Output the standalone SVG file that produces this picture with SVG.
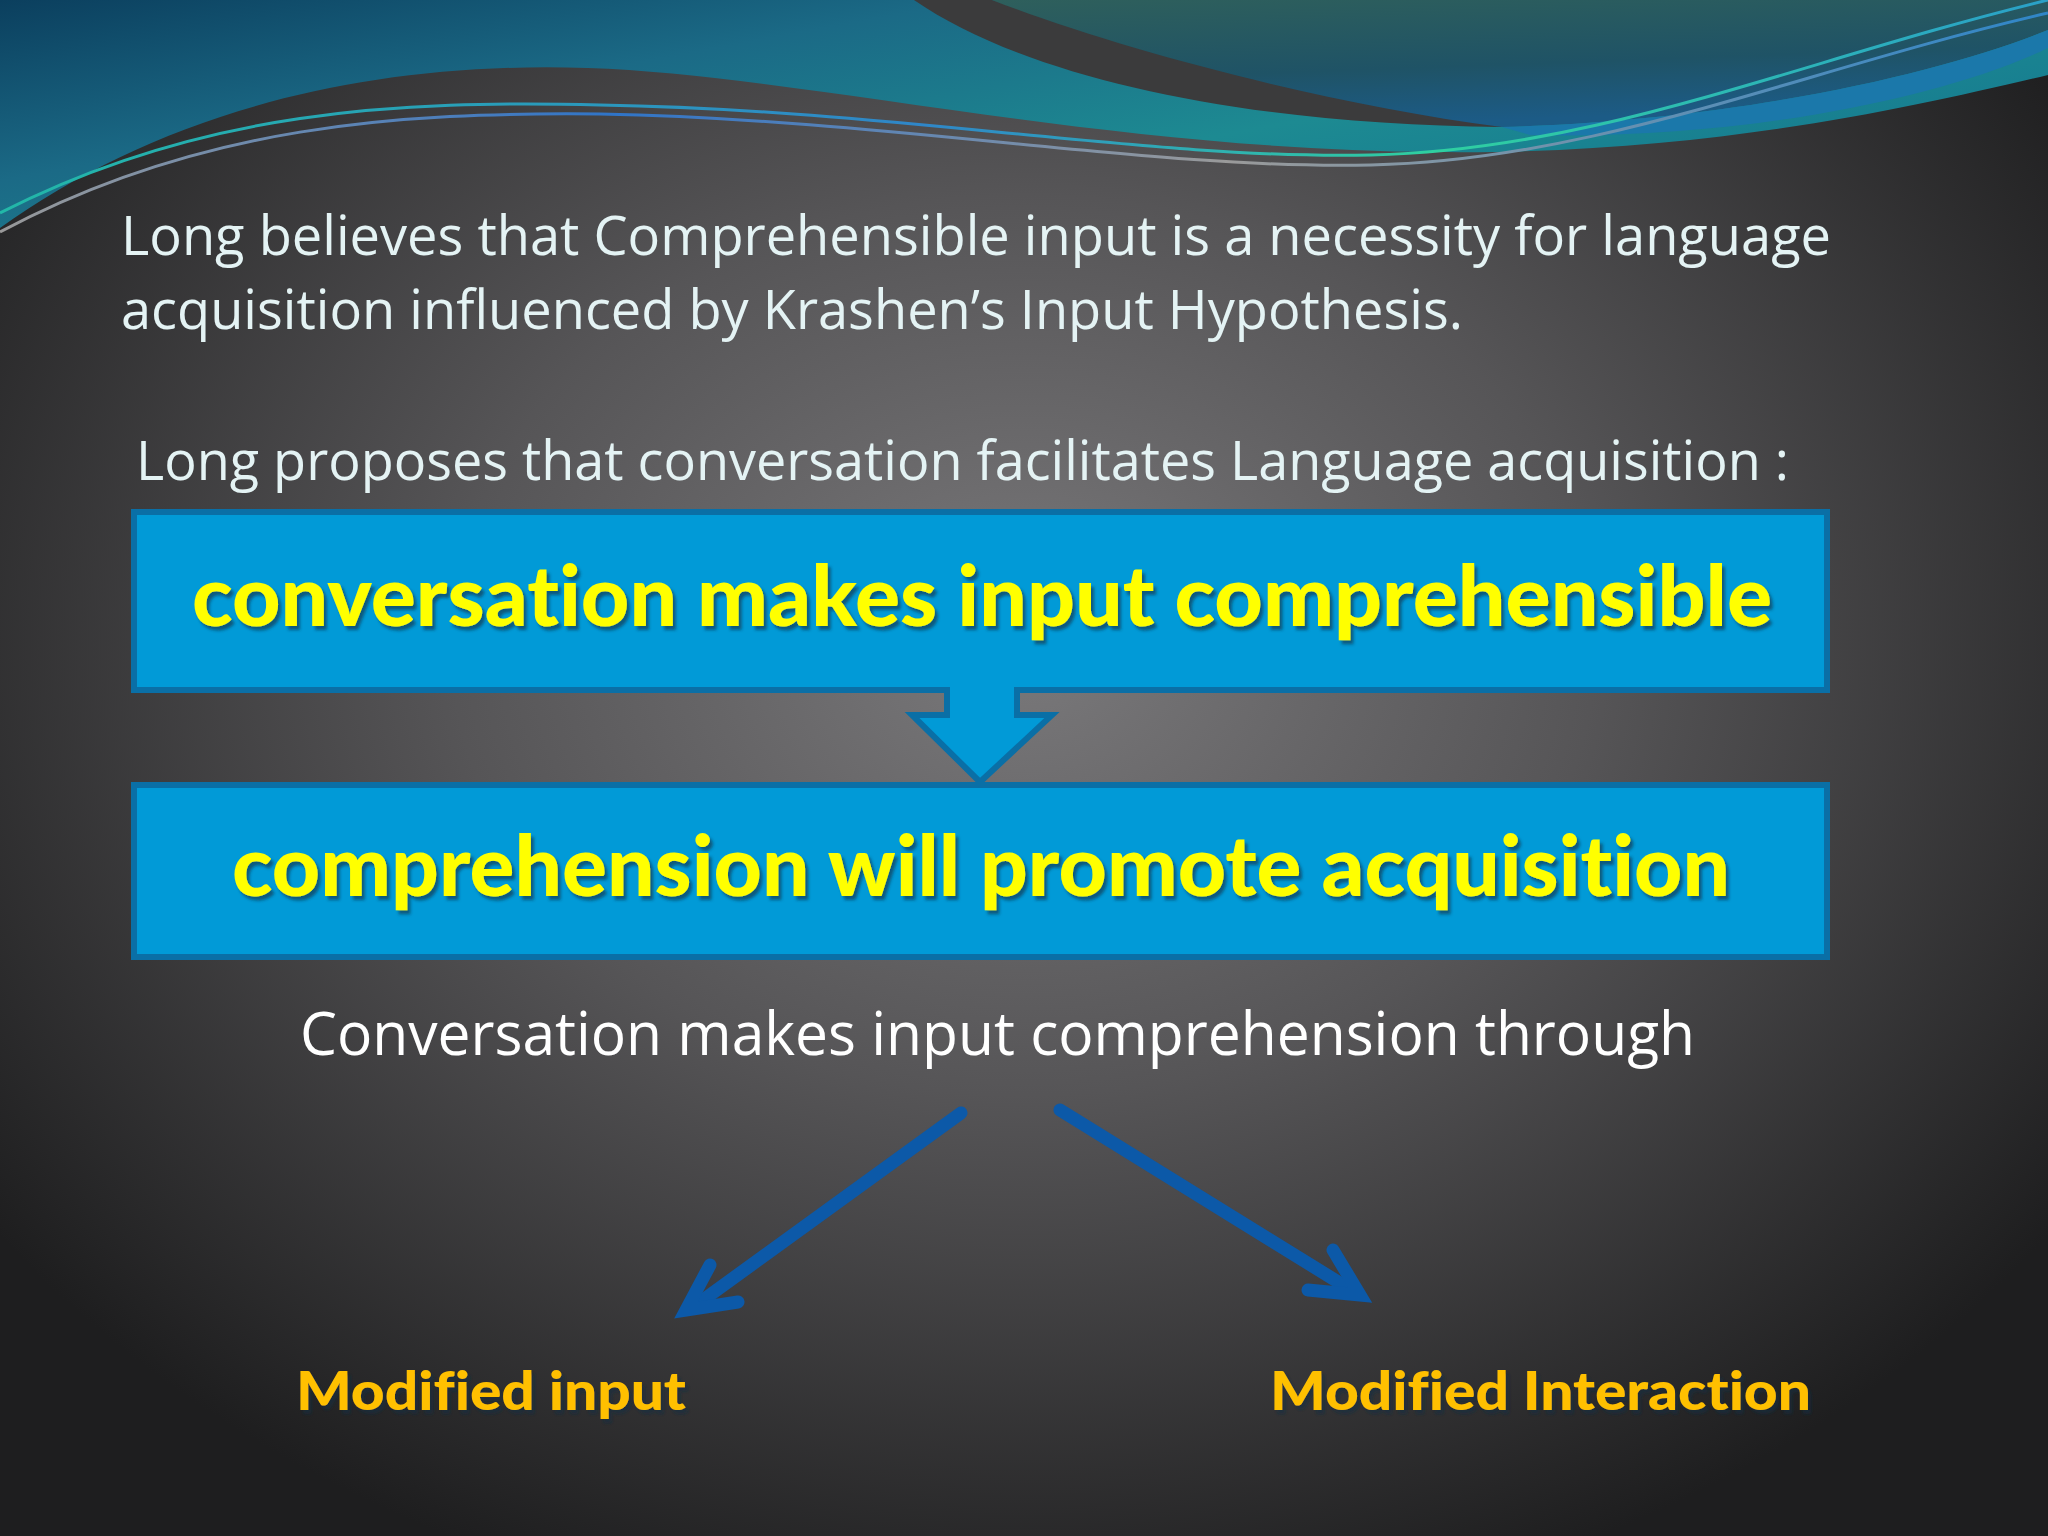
<svg xmlns="http://www.w3.org/2000/svg" width="2048" height="1536" viewBox="0 0 2048 1536">
<defs>
<radialGradient id="bg" cx="0.5" cy="0.42" r="0.62" gradientTransform="translate(0.5 0.42) scale(1 1.05) translate(-0.5 -0.42)">
<stop offset="0" stop-color="#7a797b"/>
<stop offset="0.45" stop-color="#565557"/>
<stop offset="1" stop-color="#1e1e1f"/>
</radialGradient>
<linearGradient id="teal" x1="0" y1="0" x2="1" y2="0.6">
<stop offset="0" stop-color="#0b3f5e"/>
<stop offset="0.35" stop-color="#1b6a86"/>
<stop offset="0.7" stop-color="#1d8a92"/>
<stop offset="1" stop-color="#157a90"/>
</linearGradient>
<linearGradient id="ur" x1="0" y1="0" x2="0.3" y2="1">
<stop offset="0" stop-color="#2e5f5c"/>
<stop offset="0.6" stop-color="#1f5366"/>
<stop offset="1" stop-color="#1c5b86"/>
</linearGradient>
<linearGradient id="ln1" x1="0" y1="0" x2="1" y2="0">
<stop offset="0" stop-color="#22b8a8"/>
<stop offset="0.45" stop-color="#2f86c8"/>
<stop offset="0.7" stop-color="#2fd0a0"/>
<stop offset="1" stop-color="#2aa0c8"/>
</linearGradient>
<linearGradient id="ln2" x1="0" y1="0" x2="1" y2="0">
<stop offset="0" stop-color="#999999"/>
<stop offset="0.3" stop-color="#2f74c8"/>
<stop offset="0.6" stop-color="#9a9a9a"/>
<stop offset="1" stop-color="#2f86c8"/>
</linearGradient>
<filter id="sh" x="-5%" y="-20%" width="110%" height="150%">
<feDropShadow dx="3" dy="4" stdDeviation="1.5" flood-color="#0a2a40" flood-opacity="0.6"/>
</filter>
</defs>
<style>
.title{font-family:"Open Sans","Liberation Sans",sans-serif;fill:#e4f3f4;font-size:54px}
.box{fill:#019ad7;stroke:#0a6fa6;stroke-width:6}
.boxtext{font-family:Lato,"Liberation Sans",sans-serif;font-weight:900;fill:#ffff00;font-size:84px;filter:url(#sh);font-variant-ligatures:none}
.sub{font-family:"Open Sans","Liberation Sans",sans-serif;fill:#ffffff;font-size:60px}
.lbl{font-family:Lato,"Liberation Sans",sans-serif;font-weight:900;fill:#ffc000;font-size:54px;filter:url(#sh);font-variant-ligatures:none}
.conn{fill:none;stroke:#0c59a8;stroke-width:13;stroke-linecap:round;stroke-linejoin:miter}
</style>

<rect x="0" y="0" width="2048" height="1536" fill="url(#bg)"/>

<g id="header-wave">
<path d="M0,0 H2048 V75 C1900,110 1700,155 1436,152 C1100,150 800,75 588,68 C350,60 150,120 0,228 Z" fill="url(#teal)"/>
<path d="M992,0 C1150,70 1320,120 1502,127 C1750,120 1950,70 2048,30 V0 Z" fill="url(#ur)"/>
<path d="M1502,127 C1750,120 1950,70 2048,30 V48 C1950,95 1750,140 1530,135 Z" fill="#1b78aa"/>
<path d="M914,0 C1030,80 1250,125 1502,127 C1330,105 1120,50 992,0 Z" fill="#3b3b3c"/>
<path d="M0,213 C200,110 400,100 600,105 C900,110 1150,160 1371,155 C1600,150 1800,60 2048,0" fill="none" stroke="url(#ln1)" stroke-width="3"/>
<path d="M0,232 C200,125 400,112 600,114 C900,120 1150,170 1371,165 C1600,160 1800,70 2048,13" fill="none" stroke="url(#ln2)" stroke-width="3"/>
</g>

<g id="intro-text">
<text class="title" x="121" y="255" textLength="1710" lengthAdjust="spacingAndGlyphs">Long believes that Comprehensible input is a necessity for language</text>
<text class="title" x="121" y="329" textLength="1342" lengthAdjust="spacingAndGlyphs">acquisition influenced by Krashen’s Input Hypothesis.</text>
<text class="title" x="136" y="480" textLength="1653" lengthAdjust="spacingAndGlyphs">Long proposes that conversation facilitates Language acquisition :</text>
</g>

<g id="connectors">
<path d="M947,688 V715 H912 L980,782 L1052,715 H1017 V688 Z" fill="#019ad7"/>
<polyline points="947,690 947,715 912,715 980,782 1052,715 1017,715 1017,690" fill="none" stroke="#0a6fa6" stroke-width="6" stroke-linejoin="miter"/>
<path class="conn" d="M961,1113 L692,1308"/>
<path class="conn" d="M710,1265 L686,1310 L738,1302"/>
<path class="conn" d="M1060,1110 L1356,1293"/>
<path class="conn" d="M1333,1250 L1360,1295 L1308,1290"/>
</g>

<g id="node-box1">
<rect class="box" x="134" y="512" width="1693" height="178"/>
<text class="boxtext" x="192" y="626" textLength="1580" lengthAdjust="spacingAndGlyphs">conversation makes input comprehensible</text>
</g>

<g id="node-arrowfill">
<rect x="950" y="687" width="64" height="6" fill="#019ad7"/>
</g>

<g id="node-box2">
<rect class="box" x="134" y="785" width="1693" height="172"/>
<text class="boxtext" x="232" y="896" textLength="1498" lengthAdjust="spacingAndGlyphs">comprehension will promote acquisition</text>
</g>

<g id="node-through">
<text class="sub" x="300" y="1055" textLength="1395" lengthAdjust="spacingAndGlyphs">Conversation makes input comprehension through</text>
</g>

<g id="node-modified-input">
<text class="lbl" x="296" y="1410" textLength="390" lengthAdjust="spacingAndGlyphs">Modified input</text>
</g>

<g id="node-modified-interaction">
<text class="lbl" x="1270" y="1410" textLength="541" lengthAdjust="spacingAndGlyphs">Modified Interaction</text>
</g>
</svg>
